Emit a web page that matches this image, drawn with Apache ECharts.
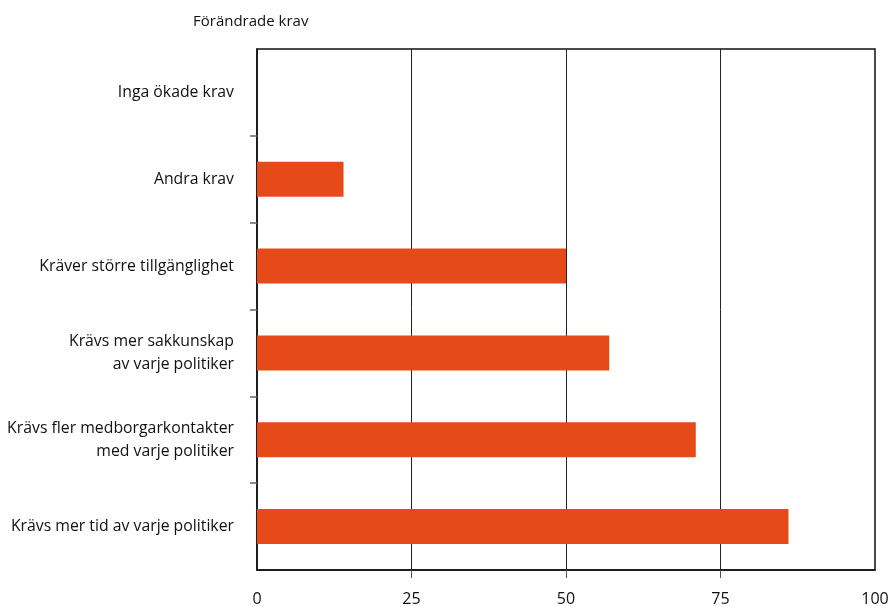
<!DOCTYPE html>
<html><head><meta charset="utf-8">
<script src="https://cdn.jsdelivr.net/npm/echarts@6/dist/echarts.min.js"></script>
<style>html,body{margin:0;padding:0;background:#fff}#c{width:888px;height:607px}</style>
</head><body><div id="c"></div>
<script>
const categories = ["Krävs mer tid av varje politiker","Krävs fler medborgarkontakter\nmed varje politiker","Krävs mer sakkunskap\nav varje politiker","Kräver större tillgänglighet","Andra krav","Inga ökade krav"];
const values = [86, 71, 57, 50, 14, 0];
const xTicks = [0, 25, 50, 75, 100];
const titleText = "Förändrade krav";

const F = 'Open Sans';
const chart = echarts.init(document.getElementById('c'));
chart.setOption({
  animation: false,
  textStyle: {fontFamily: F},
  title: {text: titleText, left: 188, top: 9, textStyle: {fontSize: 15, fontWeight: 'normal', color: '#111', fontFamily: F}},
  grid: {left: 257, right: 13, top: 49, bottom: 37, show: true, borderColor: '#111', borderWidth: 1.5, outerBoundsMode: 'none', containLabel: false},
  xAxis: {
    type: 'value', min: xTicks[0], max: xTicks[xTicks.length-1], interval: 25,
    axisLine: {show: true, lineStyle: {color: '#111', width: 1.5}},
    axisTick: {show: true, length: 8, customValues: xTicks.slice(1, -1), lineStyle: {color: '#555'}},
    axisLabel: {color: '#111', fontSize: 16, margin: 21, fontFamily: F},
    splitLine: {show: true, lineStyle: {color: '#222', width: 1}}
  },
  yAxis: [{
    type: 'category', data: categories,
    axisLine: {show: true, lineStyle: {color: '#111', width: 1.5}},
    axisTick: {show: false},
    axisLabel: {color: '#111', fontSize: 15.8, margin: 23, lineHeight: 23, align: 'right', fontFamily: F, padding: [4, 0, 0, 0]},
    splitLine: {show: false}
  }, {
    type: 'value', position: 'left', min: 0, max: categories.length, interval: 1,
    axisLine: {show: false},
    axisTick: {show: true, length: 7, customValues: [1, 2, 3, 4, 5], lineStyle: {color: '#666', width: 1.5}},
    axisLabel: {show: false},
    splitLine: {show: false}
  }],
  series: [{
    type: 'bar', data: values, barWidth: 35, yAxisIndex: 0,
    itemStyle: {color: '#e64a19'}
  }]
});
</script></body></html>
